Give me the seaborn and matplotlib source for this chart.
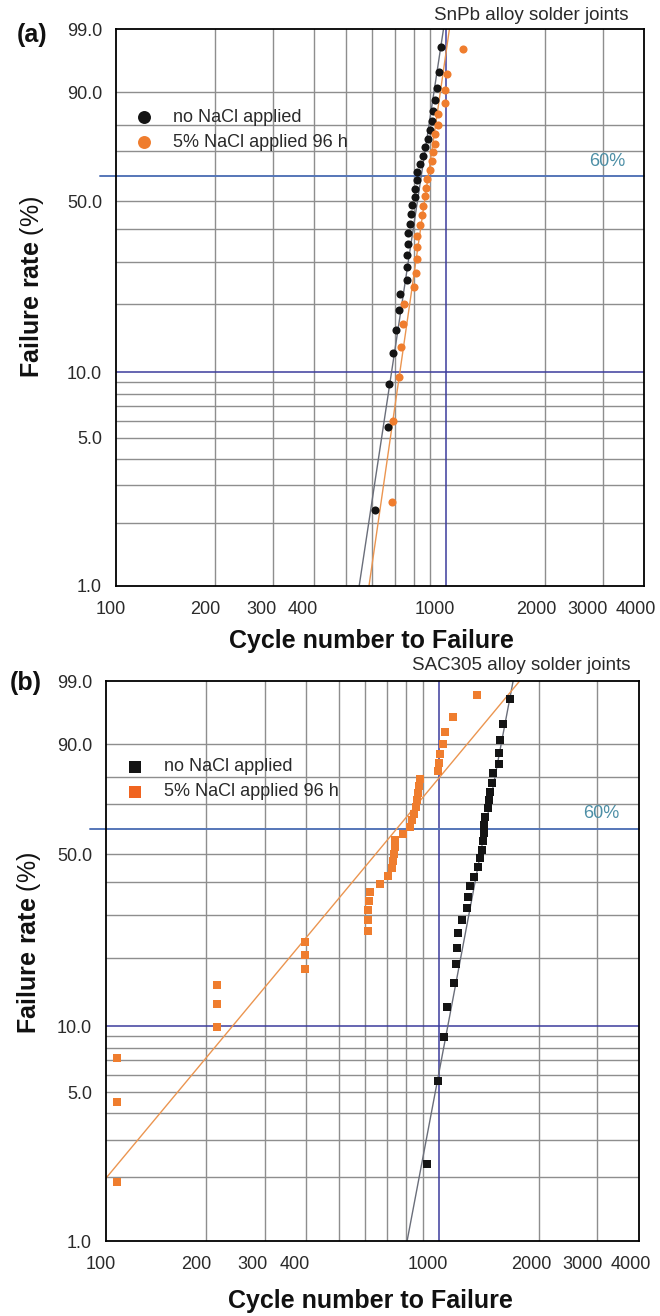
import numpy as np
import matplotlib
matplotlib.use('Agg')
import matplotlib.pyplot as plt
from matplotlib.ticker import NullLocator
from matplotlib.transforms import ScaledTranslation
import seaborn as sns

sns.set_style('white')
plt.rcParams['font.family'] = ['Liberation Sans', 'DejaVu Sans']
plt.rcParams['mathtext.fontset'] = 'custom'
plt.rcParams['mathtext.rm'] = 'Liberation Sans'
plt.rcParams['mathtext.bf'] = 'Liberation Sans:bold'

# (a) SnPb alloy solder joints
snpb_cycles_dry = [609, 667, 672, 691, 706, 721, 726, 762, 762, 762,
                   767, 767, 778, 783, 789, 805, 805, 817, 817, 834,
                   852, 864, 882, 894, 907, 919, 932, 939, 952, 966]
snpb_rate_dry = [2.3, 5.6, 8.9, 12.2, 15.5, 18.8, 22.0, 25.3, 28.6, 31.9,
                 35.2, 38.5, 41.8, 45.1, 48.4, 51.6, 54.9, 58.2, 61.5, 64.8,
                 68.1, 71.4, 74.7, 78.0, 81.3, 84.5, 87.8, 91.1, 94.4, 97.7]
snpb_cycles_salt = [686, 691, 721, 731, 741, 746, 800, 811, 817, 817,
                    817, 834, 846, 852, 864, 870, 876, 894, 907, 919,
                    926, 932, 946, 946, 993, 993, 1007, 1126]
snpb_rate_salt = [2.5, 6.0, 9.5, 13.0, 16.5, 20.1, 23.6, 27.1, 30.6, 34.2,
                  37.7, 41.2, 44.7, 48.2, 51.8, 55.3, 58.8, 62.3, 65.8, 69.4,
                  72.9, 76.4, 79.9, 83.5, 87.0, 90.5, 94.0, 97.5]

# (b) SAC305 alloy solder joints
sac_cycles_dry = [922, 995, 1037, 1059, 1112, 1127, 1135, 1143, 1175, 1216,
                  1225, 1242, 1277, 1313, 1331, 1350, 1359, 1368, 1368, 1378,
                  1407, 1416, 1426, 1446, 1456, 1518, 1518, 1529, 1561, 1638]
sac_rate_dry = [2.3, 5.6, 8.9, 12.2, 15.5, 18.8, 22.0, 25.3, 28.6, 31.9,
                35.2, 38.5, 41.8, 45.1, 48.4, 51.6, 54.9, 58.2, 61.5, 64.8,
                68.1, 71.4, 74.7, 78.0, 81.3, 84.5, 87.8, 91.1, 94.4, 97.7]
sac_cycles_salt = [108, 108, 108, 216, 216, 216, 396, 396, 396, 613,
                   613, 613, 617, 622, 666, 704, 724, 729, 734, 739,
                   739, 781, 820, 831, 843, 855, 861, 867, 873, 879,
                   995, 1002, 1009, 1030, 1044, 1104, 1304]
sac_rate_salt = [1.9, 4.5, 7.2, 9.9, 12.6, 15.2, 17.9, 20.6, 23.3, 25.9,
                 28.6, 31.3, 34.0, 36.6, 39.3, 42.0, 44.7, 47.3, 50.0, 52.7,
                 55.3, 58.0, 60.7, 63.4, 66.0, 68.7, 71.4, 74.1, 76.7, 79.4,
                 82.1, 84.8, 87.4, 90.1, 92.8, 95.5, 98.1]

# Weibull fit lines (shape, scale)
snpb_fit_dry = (10.4, 851)
snpb_fit_salt = (10.9, 893)
sac_fit_dry = (8.35, 1394)
sac_fit_salt = (1.9, 784)

legend_labels = ['no NaCl applied', '5% NaCl applied 96 h']
y_ticks = [1, 5, 10, 50, 90, 99]
y_tick_labels = ['1.0', '5.0', '10.0', '50.0', '90.0', '99.0']
y_grid = [2, 3, 4, 5, 6, 7, 8, 9, 20, 30, 40, 50, 70, 80, 90]
x_major = [100, 1000, 4000]
x_minor = [200, 300, 400, 2000, 3000]
x_grid = [200, 300, 400, 500, 600, 700, 800, 900, 2000, 3000]
# the printed tick labels sit a little left of their grid lines (pixels)
label_shift = {100: -5, 200: -10, 300: -12, 400: -12, 1000: -11,
               2000: -8, 3000: -15, 4000: -8}

BLACK = '#141414'
ORANGE = '#ef7d2e'
GRID = '#8e8e8e'
DARKBLUE = '#3c3c9c'
MIDBLUE = '#5576b8'
TEXT = '#2a2a2a'


def weibull_fwd(p):
    p = np.clip(np.asarray(p, dtype=float), 1e-6, 100 - 1e-6)
    return np.log(-np.log(1 - p / 100.0))


def weibull_inv(w):
    return 100.0 * (1 - np.exp(-np.exp(np.asarray(w, dtype=float))))


def fit_line(ax, fit, color):
    beta, eta = fit
    f = np.array([0.3, 1.0, 50.0, 99.0, 99.9])
    t = eta * (-np.log(1 - f / 100.0)) ** (1.0 / beta)
    ax.plot(t, f, color=color, lw=1.0, zorder=3)


def panel(ax, dx, dy, sx, sy, fdry, fsalt, marker, leg_anchor, salt_leg_color):
    ax.set_xscale('log')
    ax.set_yscale('function', functions=(weibull_fwd, weibull_inv))
    ax.set_xlim(100, 4000)
    ax.set_ylim(1, 99)

    for g in x_grid:
        ax.axvline(g, color=GRID, lw=1.0, zorder=1)
    for g in y_grid:
        ax.axhline(g, color=GRID, lw=1.0, zorder=1)
    ax.axvline(1000, color=DARKBLUE, lw=1.1, zorder=2)
    ax.axhline(10, color=DARKBLUE, lw=1.1, zorder=2)
    ax.axhline(60, xmin=-0.03, xmax=1.0, color=MIDBLUE, lw=1.4, zorder=2, clip_on=False)
    ax.annotate('60%', xy=(0.93, 60), xycoords=ax.get_yaxis_transform(),
                xytext=(0, 4.5), textcoords='offset points', ha='center',
                va='bottom', fontsize=13, color='#4d8fa6')

    fit_line(ax, fdry, '#6a6e7a')
    fit_line(ax, fsalt, '#eb9550')

    sns.scatterplot(x=dx, y=dy, ax=ax, marker=marker, s=34, color=BLACK,
                    linewidth=0, zorder=4, label=legend_labels[0])
    sns.scatterplot(x=sx, y=sy, ax=ax, marker=marker, s=34, color=ORANGE,
                    linewidth=0, zorder=4, label=legend_labels[1])

    leg = ax.legend(loc='upper left', bbox_to_anchor=leg_anchor, frameon=False,
                    borderpad=0, borderaxespad=0, handlelength=1.0,
                    handletextpad=1.1, labelspacing=0.45, markerscale=1.6,
                    fontsize=13)
    for txt in leg.get_texts():
        txt.set_color(TEXT)
    leg.legend_handles[1].set_facecolor(salt_leg_color)
    leg.legend_handles[1].set_edgecolor(salt_leg_color)

    ax.set_yticks(y_ticks)
    ax.set_yticklabels(y_tick_labels)
    ax.yaxis.set_minor_locator(NullLocator())
    ax.set_xticks(x_major)
    ax.set_xticklabels([str(v) for v in x_major])
    ax.set_xticks(x_minor, minor=True)
    ax.set_xticklabels([str(v) for v in x_minor], minor=True)
    ax.tick_params(axis='both', which='major', direction='out', length=5,
                   width=1.0, color='black', labelsize=13, labelcolor=TEXT)
    ax.tick_params(axis='x', which='major', pad=6)
    ax.tick_params(axis='x', which='minor', length=0, pad=11, labelsize=13,
                   labelcolor=TEXT)
    ax.tick_params(axis='y', pad=5)
    for s in ax.spines.values():
        s.set_color('black')
        s.set_linewidth(1.3)
        s.set_zorder(5)


fig = plt.figure(figsize=(6.6, 13.16), dpi=100)
ax_a = fig.add_axes([116 / 660, 1 - 586 / 1316, 528 / 660, 557 / 1316])
ax_b = fig.add_axes([106 / 660, 1 - 1241 / 1316, 533 / 660, 560 / 1316])

panel(ax_a, snpb_cycles_dry, snpb_rate_dry, snpb_cycles_salt, snpb_rate_salt,
      snpb_fit_dry, snpb_fit_salt, 'o', (0.036, 0.857), ORANGE)
panel(ax_b, sac_cycles_dry, sac_rate_dry, sac_cycles_salt, sac_rate_salt,
      sac_fit_dry, sac_fit_salt, 's', (0.0375, 0.862), '#f06420')

for ax in (ax_a, ax_b):
    for lbl in ax.get_xticklabels(which='both'):
        dx = label_shift.get(int(lbl.get_text()), -10)
        lbl.set_transform(lbl.get_transform()
                          + ScaledTranslation(dx / 100, 0, fig.dpi_scale_trans))
    ax.set_xlabel('Cycle number to Failure', fontsize=18, fontweight='bold',
                  color='#111111')
    ax.xaxis.label.set_va('center')
    ax.set_ylabel(r'$\mathbf{Failure\ rate}$ (%)', fontsize=18, color='#111111')
    ax.yaxis.label.set_va('center')

ax_a.xaxis.set_label_coords(0.483, -0.099)
ax_a.yaxis.set_label_coords(-0.159, 0.537)
ax_b.xaxis.set_label_coords(0.497, -0.107)
ax_b.yaxis.set_label_coords(-0.144, 0.532)

fig.text(629 / 660, 1 - 15 / 1316, 'SnPb alloy solder joints', ha='right',
         va='center', fontsize=13.5, color=TEXT)
fig.text(630 / 660, 1 - 665 / 1316, 'SAC305 alloy solder joints', ha='right',
         va='center', fontsize=13.5, color=TEXT)
fig.text(32 / 660, 1 - 35 / 1316, '(a)', ha='center', va='center',
         fontsize=18, fontweight='bold', color='#111111')
fig.text(26 / 660, 1 - 683 / 1316, '(b)', ha='center', va='center',
         fontsize=18, fontweight='bold', color='#111111')

fig.savefig('out.png', dpi=100)
